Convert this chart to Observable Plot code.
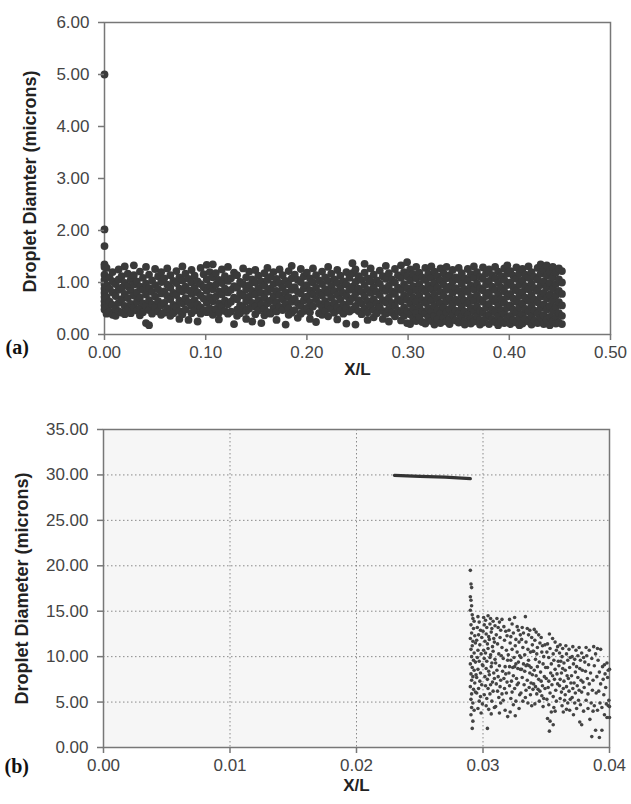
<!DOCTYPE html>
<html>
<head>
<meta charset="utf-8">
<script src="https://cdn.jsdelivr.net/npm/d3@7"></script>
<script src="https://cdn.jsdelivr.net/npm/@observablehq/plot@0.6"></script>
<style>
  html, body { margin: 0; padding: 0; background: #fff; }
  #wrap { width: 631px; height: 804px; position: relative; overflow: hidden; }
  #wrap svg { display: block; }
</style>
</head>
<body>
<div id="wrap"></div>
<script>
// ---------------- Panel (a) data ----------------
// each row: [X/L in thousandths, droplet diameters in hundredths of a micron ...]
const colsA = [
  [0, 500, 202, 170, 135, 130, 115, 105, 97, 88, 80, 72, 64, 56, 48],
  [2, 128, 95, 72, 51, 40],
  [5, 110, 88, 63, 44],
  [8, 120, 102, 81, 57, 38],
  [11, 97, 74, 49, 36],
  [14, 125, 106, 86, 61, 45],
  [17, 112, 90, 68, 42],
  [20, 131, 99, 78, 55, 39],
  [23, 117, 93, 70, 48],
  [26, 106, 84, 59, 41],
  [29, 133, 114, 96, 75, 52],
  [32, 102, 81, 63, 46],
  [35, 121, 92, 71, 50, 37],
  [38, 109, 86, 60, 43],
  [41, 130, 98, 77, 55, 22],
  [44, 115, 89, 66, 47, 18],
  [47, 104, 82, 58, 40],
  [50, 126, 95, 73, 52],
  [53, 112, 87, 64, 44],
  [56, 120, 101, 79, 56, 38],
  [59, 108, 83, 61, 42],
  [62, 127, 96, 74, 50],
  [65, 114, 90, 68, 46, 36],
  [68, 103, 80, 57, 41],
  [71, 122, 99, 76, 53],
  [74, 110, 88, 65, 45, 30],
  [77, 131, 104, 83, 60, 39],
  [80, 117, 92, 70, 48],
  [83, 107, 85, 62, 28],
  [86, 124, 100, 78, 55, 41],
  [89, 113, 89, 66, 46],
  [92, 102, 81, 58, 25],
  [95, 128, 97, 75, 52, 40],
  [98, 116, 91, 69, 47],
  [101, 134, 106, 84, 61, 43],
  [104, 120, 94, 72, 50],
  [107, 135, 110, 87, 64, 38],
  [110, 118, 96, 73, 49],
  [113, 105, 83, 60, 42, 29],
  [116, 125, 99, 77, 54],
  [119, 112, 88, 65, 45],
  [122, 130, 103, 81, 58, 40],
  [125, 108, 86, 63, 44],
  [128, 119, 93, 71, 20],
  [131, 114, 90, 68, 48, 36],
  [134, 101, 79, 56, 41],
  [137, 127, 97, 75, 52],
  [140, 110, 87, 64, 45, 30],
  [143, 121, 95, 73, 50],
  [146, 106, 84, 61, 25],
  [149, 124, 100, 77, 54, 39],
  [152, 113, 89, 66, 46],
  [155, 102, 80, 58, 22],
  [158, 118, 94, 71, 49, 37],
  [161, 128, 105, 82, 60, 43],
  [164, 111, 88, 65, 40],
  [167, 120, 97, 74, 51],
  [170, 107, 84, 62, 44, 28],
  [173, 125, 99, 76, 53],
  [176, 114, 90, 68, 47],
  [179, 103, 81, 59, 19],
  [182, 122, 96, 72, 50, 38],
  [185, 132, 108, 86, 63, 42],
  [188, 115, 91, 69, 47],
  [191, 105, 82, 60, 32],
  [194, 126, 101, 79, 55, 40],
  [197, 112, 89, 66, 45],
  [200, 119, 95, 73, 51],
  [203, 108, 85, 62, 43, 30],
  [206, 127, 100, 77, 54],
  [209, 114, 90, 68, 24],
  [212, 104, 81, 59, 41],
  [215, 121, 97, 75, 52, 38],
  [218, 110, 87, 64, 45],
  [221, 130, 103, 80, 57, 35],
  [224, 117, 93, 71, 49],
  [227, 106, 84, 61, 42],
  [230, 124, 99, 76, 53, 29],
  [233, 113, 89, 67, 46],
  [236, 102, 80, 58, 40],
  [239, 120, 96, 74, 51, 21],
  [242, 109, 86, 63, 44],
  [245, 137, 118, 92, 70, 48],
  [248, 125, 101, 79, 55, 19],
  [251, 112, 88, 66, 45],
  [254, 105, 82, 60, 39],
  [257, 136, 119, 95, 73, 50],
  [260, 108, 86, 64, 43, 28],
  [263, 127, 102, 80, 56],
  [266, 115, 91, 68, 47, 33],
  [269, 104, 82, 60, 41],
  [272, 123, 98, 76, 53],
  [275, 112, 89, 66, 45, 30],
  [278, 132, 107, 84, 62, 40],
  [281, 118, 94, 71, 49, 25],
  [284, 106, 83, 61, 42],
  [287, 126, 100, 78, 55, 35],
  [290, 114, 90, 68, 46],
  [293, 133, 109, 86, 64, 43, 27],
  [296, 120, 97, 75, 52, 36],
  [299, 139, 112, 89, 67, 45, 22],
  [302, 125, 104, 81, 59, 39, 20],
  [305, 116, 93, 71, 50, 31],
  [308, 130, 108, 85, 63, 42, 26],
  [311, 119, 97, 75, 53, 34],
  [314, 110, 88, 66, 45, 24],
  [317, 128, 105, 83, 61, 40, 21],
  [320, 117, 95, 73, 51, 33],
  [323, 131, 109, 87, 65, 44, 26],
  [326, 121, 99, 77, 55, 36, 19],
  [329, 112, 90, 68, 47, 29],
  [332, 127, 104, 82, 60, 40, 22],
  [335, 118, 96, 74, 52, 33],
  [338, 130, 108, 86, 64, 43, 25],
  [341, 114, 92, 70, 49, 30, 20],
  [344, 124, 102, 80, 58, 38],
  [347, 110, 89, 67, 46, 27],
  [350, 128, 106, 84, 62, 41, 23],
  [353, 118, 97, 75, 53, 34],
  [356, 108, 87, 65, 44, 26, 19],
  [359, 126, 104, 82, 60, 39],
  [362, 116, 94, 72, 51, 31, 21],
  [365, 131, 109, 87, 65, 44, 25],
  [368, 120, 98, 76, 54, 35],
  [371, 111, 89, 67, 46, 28, 19],
  [374, 129, 107, 85, 63, 42, 23],
  [377, 118, 96, 74, 52, 33],
  [380, 125, 103, 81, 59, 38, 20],
  [383, 114, 92, 70, 48, 29],
  [386, 130, 108, 86, 64, 43, 24],
  [389, 121, 99, 77, 55, 35, 18],
  [392, 112, 90, 68, 47, 27],
  [395, 127, 105, 83, 61, 40, 22],
  [398, 133, 117, 95, 73, 51, 32],
  [401, 122, 100, 78, 56, 36, 20],
  [404, 113, 91, 69, 48, 28],
  [407, 129, 107, 85, 63, 42, 23],
  [410, 118, 96, 74, 52, 33, 18],
  [413, 126, 104, 82, 60, 39, 21],
  [416, 115, 93, 71, 49, 30],
  [419, 131, 109, 87, 65, 44, 25],
  [422, 120, 98, 76, 54, 35, 19],
  [425, 111, 89, 67, 46, 27],
  [428, 128, 106, 84, 62, 41, 22],
  [431, 135, 117, 95, 73, 51, 32],
  [434, 124, 102, 80, 58, 37, 20],
  [437, 133, 113, 91, 69, 48, 28],
  [440, 121, 99, 77, 55, 34, 18],
  [443, 130, 110, 88, 66, 45, 25],
  [446, 119, 97, 75, 53, 33, 21],
  [449, 127, 106, 84, 62, 41, 23],
  [452, 122, 100, 78, 56, 36, 20]
];
const xTicksA = [0, 0.1, 0.2, 0.3, 0.4, 0.5];
const xTickLabelsA = ["0.00", "0.10", "0.20", "0.30", "0.40", "0.50"];
const yTicksA = [0, 1, 2, 3, 4, 5, 6];
const yTickLabelsA = ["0.00", "1.00", "2.00", "3.00", "4.00", "5.00", "6.00"];

// ---------------- Panel (b) data ----------------
// line of large droplets: [X/L, diameter]
const lineB = [[0.0230, 29.95], [0.0250, 29.85], [0.0270, 29.75], [0.0290, 29.6]];
// scattered droplets: [X/L in 1e-4, diameter in microns]
const ptsB = [
  [290,19.5],[290.5,18],[291,17.6],[290,16.6],[290.5,16.2],[291,15.6],[290,15.1],[291.5,14.6],[292,14.2],[293,13.9],
  [290.5,13.5],[292.5,13.1],[291,12.6],[293.5,12.3],[290,12],[292,11.7],[291.5,11.2],[294,11.5],[290.5,10.8],[293,10.4],
  [291,10],[292.5,9.6],[290,9.2],[294,9.4],[291.5,8.8],[293,8.5],[290.5,8.1],[292,7.8],[294.5,8],[291,7.4],
  [293.5,7.1],[290,6.7],[292.5,6.4],[291,5.9],[294,6.1],[290.5,5.3],[292,4.9],[291,4.4],[293,4.1],[290.5,3.6],
  [292,2.9],[291.5,2.1],[296,14.4],[297,13.8],[295.5,13.2],[298,12.9],[296.5,12.4],[299,12.1],[295,11.8],[297.5,11.3],
  [296,10.7],[298.5,10.3],[295.5,9.9],[297,9.5],[299.5,9.1],[296,8.6],[298,8.2],[295,7.7],[297.5,7.3],[299,6.9],
  [296.5,6.5],[295,6],[298,5.6],[297,5.1],[299.5,4.8],[296,4.3],[298.5,3.8],
  [300.5,14.3],[302,14],[304,14.5],[306,14.2],[308,13.9],[301,13.5],[303,13.2],[305.5,13.6],[307,13.1],[309.5,13.4],
  [300,12.8],[302.5,12.5],[304.5,12.2],[306.5,12.7],[308.5,12],[301.5,11.7],[303.5,11.4],[305,11.9],[307.5,11.1],[309,11.6],
  [300.5,10.7],[302,10.4],[304,10.9],[306,10.2],[308,10.6],[301,9.8],[303,9.5],[305.5,9.9],[307,9.3],[309.5,9.7],
  [300,9],[302.5,8.7],[304.5,8.4],[306.5,8.9],[308.5,8.2],[301.5,7.8],[303.5,7.5],[305,8],[307.5,7.2],[309,7.6],
  [302,6.8],[304,6.5],[306,6.9],[308,6.2],[301,5.8],[303,5.4],[305.5,5.9],[307,5.1],[302.5,4.6],[304.5,4.2],
  [306.5,3.7],[309,4.4],[303.5,2.1],
  [311,14.2],[313,13.8],[315,14.1],[312,13.2],[314,12.9],[316.5,13.3],[318,12.8],[310.5,12.4],[313.5,12.1],[317,11.8],
  [319,12.3],[311.5,11.4],[315,11],[318.5,10.7],[312.5,10.3],[314.5,10.1],[316,9.8],[319.5,9.6],[310,9.3],[313,9],
  [317.5,8.9],[311,8.5],[315.5,8.4],[318,8.1],[312,7.8],[314,7.4],[316.5,7.6],[319,7.2],[310.5,7],[313.5,6.7],
  [317,6.5],[311.5,6.2],[315,5.9],[318.5,6],[312.5,5.5],[316,5.2],[314,4.9],[310,4.5],[317.5,4.1],[313,3.8],[319.5,3.4],
  [321,14.1],[323,13.6],[325,14.3],[327,13.3],[320.5,12.9],[324,12.6],[328,12.9],[322,12.2],[326,11.9],[329.5,12.4],
  [321.5,11.5],[325.5,11.2],[328.5,11.6],[323,10.8],[327,10.5],[320,10.2],[324.5,9.9],[329,10.1],[322,9.6],[326,9.2],
  [328,9.4],[321,8.9],[323.5,8.8],[325,8.9],[327.5,8.7],[329.5,8.6],[320.5,8.2],[324,7.9],[326.5,7.6],[322.5,7.3],
  [328,7.1],[321,6.8],[325,6.5],[327,6.9],[323,6.1],[329,5.8],[322,5.4],[326,5.1],[324,4.7],[328.5,4.3],[321.5,3.9],[325.5,3.5],
  [333.5,14.4],[331,13.2],[335,13.1],[337,12.9],[332,12.6],[336,12.4],[338.5,12.1],[330.5,11.9],[334,11.6],[339,11.3],
  [331.5,11],[335.5,10.8],[337.5,10.5],[333,10.2],[339.5,10.6],[330,9.9],[336,9.6],[332,9.2],[334,9],[335,9.1],
  [336.5,9],[338,8.8],[330.5,8.6],[333,8.4],[337,8.2],[339,8],[331,7.7],[335,7.4],[338,7.1],[332.5,6.9],
  [336.5,6.6],[334,6.3],[339.5,6.4],[330,6],[337.5,5.8],[333.5,5.5],[331.5,5.1],[335.5,4.9],[338.5,4.6],
  [340.5,13],[342,12.7],[344,12.4],[346,12.1],[341,11.8],[345,11.5],[347,11.2],[343,11],[349,11.3],[340,10.6],
  [342.5,10.3],[346.5,10.5],[348,10],[341.5,9.7],[344.5,9.4],[347.5,9.2],[343,8.9],[349.5,8.8],[340.5,8.5],[345.5,8.3],
  [342,7.9],[348.5,7.8],[344,7.5],[346,7.3],[340,7],[347,6.8],[341.5,6.7],[343.5,6.4],[345,6.2],[349,6.5],
  [342.5,5.9],[346.5,5.7],[348,5.4],[344.5,5.1],[341,4.8],[347.5,4.5],
  [352.5,12.5],[355,12],[351,11.4],[357,11.6],[353,10.9],[359,11.1],[350.5,10.5],[355.5,10.3],[358,10.7],[352,9.9],
  [356,9.6],[354,9.2],[359.5,9.5],[351,8.8],[357,8.6],[353.5,8.2],[355,7.9],[358.5,8.1],[350,7.6],[352,7.3],
  [356.5,7.5],[354.5,6.9],[359,7],[351.5,6.6],[357.5,6.3],[353,6],[355.5,5.6],[350.5,5.3],[358,5.1],[352,4.7],
  [356,4.4],[354,3.9],[351,3.2],[353,2.9],[355.5,2.5],[352.5,1.8],[357,4],
  [361,11.3],[363,10.9],[365.5,11.2],[368,10.8],[360.5,10.4],[362.5,10],[366,10.3],[369,9.9],[361.5,9.5],[364,9.3],
  [367,9.6],[360,9],[363,8.7],[365,8.5],[368.5,8.8],[362,8.2],[366.5,7.9],[361,7.5],[364,7.3],[367.5,7.6],
  [369.5,7.1],[360.5,6.8],[363.5,6.5],[366,6.7],[362,6.1],[365,5.8],[368,6.2],[361,5.4],[364.5,5.2],[367,4.9],
  [369,5.3],[362.5,4.6],[366,4.2],[363.5,3.9],[368.5,4.1],
  [371,11.1],[373.5,10.7],[376,11],[378,10.4],[370.5,10],[372.5,9.7],[375,10.1],[377,9.6],[379.5,9.9],[371.5,9.2],
  [374,8.9],[376.5,8.7],[373,8.3],[378.5,8.5],[370,7.9],[375,7.7],[377.5,7.4],[372,7.1],[374.5,6.8],[379,7.2],
  [371,6.5],[376,6.3],[373,6],[378,6.1],[370.5,5.5],[375.5,5.2],[372.5,4.9],[377,4.7],[374,4.3],[379.5,4],
  [371.5,3.6],[376.5,2.8],[378,2.5],
  [381.5,11],[384,10.7],[387.5,11.1],[382,10.1],[386,9.8],[389,10.3],[380.5,9.4],[383.5,9.1],[388,9],[381,8.4],
  [385,8.2],[382.5,7.6],[387,7.4],[384,7],[380,6.6],[386.5,6.3],[383,5.9],[389.5,6],[381.5,5.2],[385.5,4.9],
  [388,4.6],[383,4.3],[387,4],[384.5,3.1],[389,1.9],[386,1.2],
  [390.5,10.9],[393,10.8],[396,9.1],[398,9.3],[391,9.6],[394.5,8.9],[399,8.5],[392,8.3],[396.5,8.1],[390,7.8],
  [395,7.5],[398.5,7.7],[393,7],[397,6.6],[391.5,6.2],[395.5,5.8],[399.5,5.2],[392.5,4.9],[397.5,4.8],[394,4.4],
  [399,4.6],[390.5,4.1],[396,3.6],[398,3.3],[392,1.1],[394,1.9],[400,8.6],[400,4.5],[400,3.3]
];
const xTicksB = [0, 0.01, 0.02, 0.03, 0.04];
const xTickLabelsB = ["0.00", "0.01", "0.02", "0.03", "0.04"];
const yTicksB = [0, 5, 10, 15, 20, 25, 30, 35];
const yTickLabelsB = ["0.00", "5.00", "10.00", "15.00", "20.00", "25.00", "30.00", "35.00"];

// ---------------- build tables ----------------
const dataA = colsA.flatMap(([x, ...ys]) => ys.map(y => ({x: x / 1000, y: y / 100})));
const dataB = ptsB.map(([x, y]) => ({x: x / 10000, y}));
const dataLineB = lineB.map(([x, y]) => ({x, y}));

const FONT = "'Liberation Sans', Arial, Helvetica, sans-serif";
const SERIF = "'Liberation Serif', 'Times New Roman', serif";
const AXIS = "#777";
const INK = "#444";

function labeler(ticks, labels) {
  return d => labels[ticks.findIndex(t => Math.abs(t - d) < 1e-9)];
}

const plotA = Plot.plot({
  width: 631, height: 398,
  marginLeft: 104, marginRight: 21, marginTop: 22, marginBottom: 64,
  x: {domain: [0, 0.5]},
  y: {domain: [0, 6]},
  style: {fontFamily: FONT, fontSize: "17px", color: INK, background: "#fff", overflow: "visible"},
  marks: [
    Plot.frame({stroke: AXIS, strokeWidth: 1.5}),
    Plot.dot(dataA, {x: "x", y: "y", r: 3.9, fill: "#3a3a3a", stroke: "none"}),
    Plot.axisX({ticks: xTicksA, tickFormat: labeler(xTicksA, xTickLabelsA), tickSize: 6, tickPadding: 5, stroke: AXIS, strokeWidth: 1.5, fill: INK, label: null, fontSize: 17}),
    Plot.axisY({ticks: yTicksA, tickFormat: labeler(yTicksA, yTickLabelsA), tickSize: 6, tickPadding: 9, stroke: AXIS, strokeWidth: 1.5, fill: INK, label: null, fontSize: 17}),
    Plot.text(["X/L"], {frameAnchor: "bottom", dy: 40, fontWeight: "bold", fontSize: 17, fill: "#222"}),
    Plot.text(["Droplet Diamter (microns)"], {frameAnchor: "left", dx: -74, dy: 3, rotate: -90, textAnchor: "middle", fontWeight: "bold", fontSize: 18, fill: "#222"}),
    Plot.text(["(a)"], {frameAnchor: "bottom-left", dx: -99, dy: 19, textAnchor: "start", fontFamily: SERIF, fontWeight: "bold", fontSize: 20, fill: "#111"})
  ]
});

const plotB = Plot.plot({
  width: 631, height: 406,
  marginLeft: 103, marginRight: 22, marginTop: 31, marginBottom: 57,
  x: {domain: [0, 0.04]},
  y: {domain: [0, 35]},
  style: {fontFamily: FONT, fontSize: "17px", color: INK, background: "#fff", overflow: "visible"},
  marks: [
    Plot.frame({fill: "#f6f6f6", stroke: null}),
    Plot.gridX({ticks: [0.01, 0.02, 0.03], stroke: "#8a8a8a", strokeOpacity: 1, strokeDasharray: "1.5,2.5"}),
    Plot.gridY({ticks: [5, 10, 15, 20, 25, 30], stroke: "#8a8a8a", strokeOpacity: 1, strokeDasharray: "1.5,2.5"}),
    Plot.frame({stroke: AXIS, strokeWidth: 1.5}),
    Plot.line(dataLineB, {x: "x", y: "y", stroke: "#333", strokeWidth: 3.2}),
    Plot.dot(dataB, {x: "x", y: "y", r: 1.8, fill: "#444", stroke: "none"}),
    Plot.axisX({ticks: xTicksB, tickFormat: labeler(xTicksB, xTickLabelsB), tickSize: 6, tickPadding: 5, stroke: AXIS, strokeWidth: 1.5, fill: INK, label: null, fontSize: 17}),
    Plot.axisY({ticks: yTicksB, tickFormat: labeler(yTicksB, yTickLabelsB), tickSize: 6, tickPadding: 9, stroke: AXIS, strokeWidth: 1.5, fill: INK, label: null, fontSize: 17}),
    Plot.text(["X/L"], {frameAnchor: "bottom", dy: 43, fontWeight: "bold", fontSize: 17, fill: "#222"}),
    Plot.text(["Droplet Diameter (microns)"], {frameAnchor: "left", dx: -81, rotate: -90, textAnchor: "middle", fontWeight: "bold", fontSize: 18, fill: "#222"}),
    Plot.text(["(b)"], {frameAnchor: "bottom-left", dx: -99, dy: 25, textAnchor: "start", fontFamily: SERIF, fontWeight: "bold", fontSize: 20, fill: "#111"})
  ]
});

const wrap = document.getElementById("wrap");
wrap.appendChild(plotA);
wrap.appendChild(plotB);
</script>
</body>
</html>
